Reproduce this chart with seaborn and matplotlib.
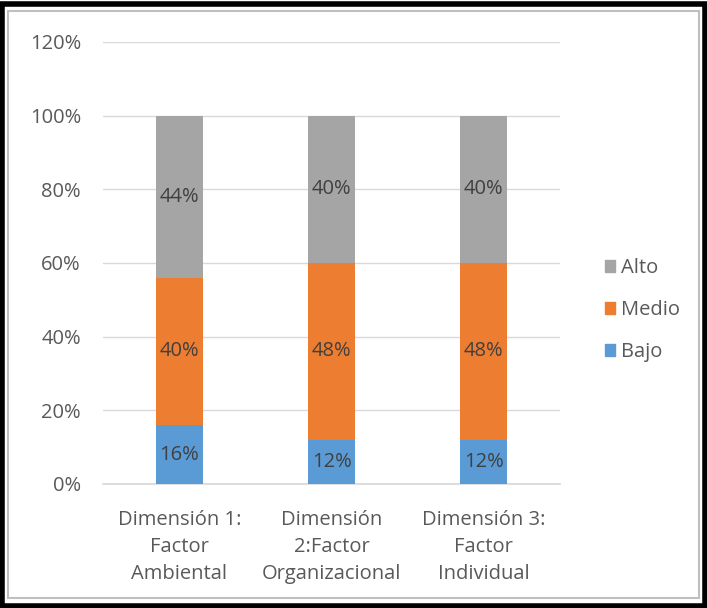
import matplotlib
matplotlib.use("Agg")
import matplotlib.pyplot as plt
import seaborn as sns
import pandas as pd
from matplotlib.patches import Rectangle, Patch

sns.set_theme(style="white")
plt.rcParams['font.family'] = ['Open Sans', 'DejaVu Sans']

# --- dados ---
categorias = ["Dimensión 1:\nFactor\nAmbiental", "Dimensión\n2:Factor\nOrganizacional", "Dimensión 3:\nFactor\nIndividual"]
bajo = [16, 12, 12]
medio = [40, 48, 48]
alto = [44, 40, 40]
series = ["Bajo", "Medio", "Alto"]
cores = {"Bajo": "#5B9BD5", "Medio": "#ED7D31", "Alto": "#A5A5A5"}
yticks = [0, 20, 40, 60, 80, 100, 120]

df = pd.DataFrame({"cat": categorias, "Bajo": bajo, "Medio": medio, "Alto": alto})
df["c_bajo"] = df["Bajo"]
df["c_medio"] = df["Bajo"] + df["Medio"]
df["c_alto"] = df["c_medio"] + df["Alto"]

fig = plt.figure(figsize=(7.07, 6.08), dpi=100)
ax = fig.add_axes([0.146, 0.204, 0.646, 0.727])

txt = "#595959"
fs = 14.5
# barras acumuladas, de trás para frente
for col, nome in [("c_alto", "Alto"), ("c_medio", "Medio"), ("c_bajo", "Bajo")]:
    sns.barplot(data=df, x="cat", y=col, color=cores[nome], width=0.31,
                saturation=1, ax=ax, zorder=3, linewidth=0, edgecolor="none")

# rótulos
for i in range(len(categorias)):
    baixo = 0
    for nome in series:
        v = df.loc[i, nome]
        ax.text(i, baixo + v / 2, f"{v}%", ha="center", va="center",
                fontsize=fs, color="#404040", zorder=5)
        baixo += v

ax.set_ylim(0, 120)
ax.set_xlim(-0.5, 2.5)
ax.set_yticks(yticks)
ax.set_yticklabels([f"{t}%" for t in yticks], color=txt, fontsize=fs)
ax.tick_params(axis="x", colors=txt, labelsize=fs, length=0, pad=19)
for lab in ax.get_xticklabels():
    lab.set_linespacing(1.45)
ax.tick_params(axis="y", length=0, pad=16)
ax.set_xlabel("")
ax.set_ylabel("")
ax.grid(axis="y", color="#D9D9D9", linewidth=1, zorder=0)
for s in ["top", "right", "left"]:
    ax.spines[s].set_visible(False)
ax.spines["bottom"].set_color("#D9D9D9")
ax.set_axisbelow(True)

handles = [Patch(color=cores[n], label=n) for n in ["Alto", "Medio", "Bajo"]]
fig.legend(handles=handles, loc="center left", bbox_to_anchor=(0.83, 0.49),
           frameon=False, fontsize=fs, labelcolor=txt, handlelength=0.5,
           handleheight=0.5, handletextpad=0.3, labelspacing=1.1)

# moldura
fig.patches.append(Rectangle((0.003, 0.004), 0.994, 0.99, transform=fig.transFigure,
                             fill=False, edgecolor="black", linewidth=4))
fig.patches.append(Rectangle((0.012, 0.016), 0.976, 0.966, transform=fig.transFigure,
                             fill=False, edgecolor="#BFBFBF", linewidth=1.5))

fig.savefig("out.png", dpi=100)
